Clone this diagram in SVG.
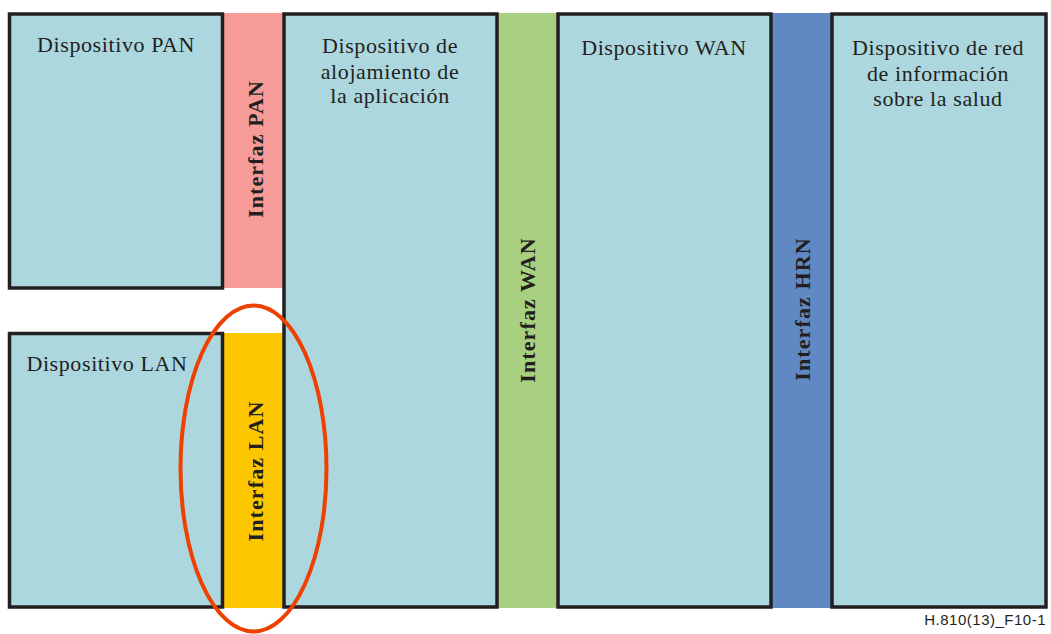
<svg xmlns="http://www.w3.org/2000/svg" width="1051" height="634" viewBox="0 0 1051 634">
  <style>
    .dev { fill: #acd7df; stroke: #231f20; stroke-width: 3.5; }
    .lbl { font-family: "Liberation Serif", "Times New Roman", serif; font-size: 22px; letter-spacing: 0.6px; fill: #231f20; text-anchor: middle; }
    .ifl { font-family: "Liberation Serif", "Times New Roman", serif; font-size: 22px; font-weight: bold; letter-spacing: 1.1px; fill: #231f20; text-anchor: middle; }
    .ref { font-family: "Liberation Sans", Arial, sans-serif; font-size: 15px; letter-spacing: 0.5px; fill: #231f20; text-anchor: end; }
  </style>

  <!-- interface bands -->
  <g id="if-pan">
    <rect x="224" y="13" width="60" height="275" fill="#f79b99"/>
    <text class="ifl" transform="translate(263,149) rotate(-90)">Interfaz PAN</text>
  </g>
  <g id="if-lan">
    <rect x="224" y="333" width="60" height="275" fill="#fdc700"/>
    <text class="ifl" transform="translate(263,471) rotate(-90)">Interfaz LAN</text>
  </g>
  <g id="if-wan">
    <rect x="497" y="13" width="60" height="595" fill="#a9d080"/>
    <text class="ifl" transform="translate(535,310) rotate(-90)">Interfaz WAN</text>
  </g>
  <g id="if-hrn">
    <rect x="772" y="13" width="60" height="595" fill="#6089c3"/>
    <text class="ifl" transform="translate(810,309) rotate(-90)">Interfaz HRN</text>
  </g>

  <!-- devices -->
  <g id="dev-pan">
    <rect class="dev" x="9.5" y="14" width="213" height="274"/>
    <text class="lbl" x="116" y="52">Dispositivo PAN</text>
  </g>
  <g id="dev-lan">
    <rect class="dev" x="9.5" y="333.5" width="213" height="273.5"/>
    <text class="lbl" x="107" y="371">Dispositivo LAN</text>
  </g>
  <g id="dev-app">
    <rect class="dev" x="284" y="14" width="213" height="593"/>
    <text class="lbl" x="390" y="53">Dispositivo de</text>
    <text class="lbl" x="390" y="79">alojamiento de</text>
    <text class="lbl" x="390" y="103">la aplicación</text>
  </g>
  <g id="dev-wan">
    <rect class="dev" x="558" y="14" width="213" height="593"/>
    <text class="lbl" x="664" y="55">Dispositivo WAN</text>
  </g>
  <g id="dev-hrn">
    <rect class="dev" x="832" y="14" width="214" height="593"/>
    <text class="lbl" x="938" y="55">Dispositivo de red</text>
    <text class="lbl" x="938" y="81">de información</text>
    <text class="lbl" x="938" y="106">sobre la salud</text>
  </g>

  <!-- connectors (none; highlight ellipse around the LAN interface) -->
  <g id="connectors">
    <ellipse id="lan-highlight" cx="253.5" cy="468.5" rx="73" ry="163" fill="none" stroke="#ee4000" stroke-width="4"/>
  </g>

  <text class="ref" x="1046" y="625">H.810(13)_F10-1</text>
</svg>
